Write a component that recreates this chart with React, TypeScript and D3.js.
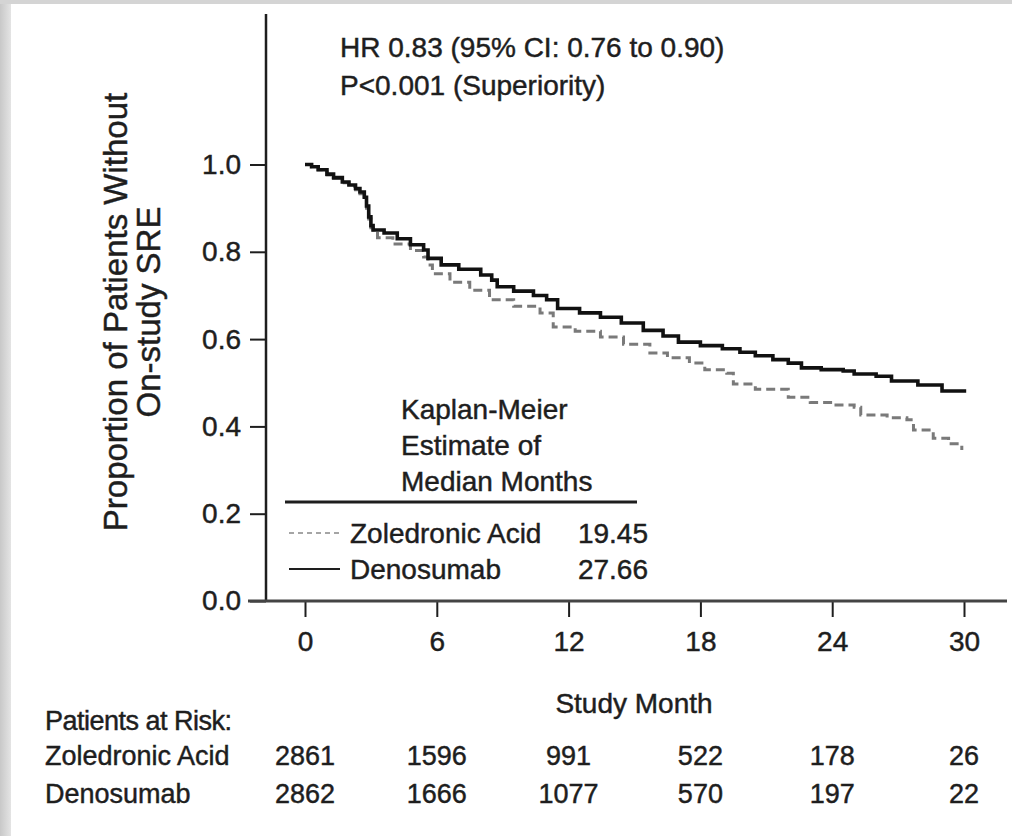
import React, { useEffect, useRef } from 'react';
import * as d3 from 'd3';

// Kaplan-Meier points: [study month, proportion without SRE]
const denosumab: [number, number][] = [
  [0, 1.0], [0.3, 0.995], [0.6, 0.988], [1.0, 0.978], [1.3, 0.97], [1.7, 0.96],
  [2.0, 0.953], [2.3, 0.945], [2.5, 0.937], [2.7, 0.925], [2.8, 0.905], [2.9, 0.88],
  [3.0, 0.86], [3.1, 0.85], [3.6, 0.843], [4.2, 0.83], [4.8, 0.816], [5.4, 0.804],
  [5.6, 0.785], [6.2, 0.77], [7.0, 0.76], [8.0, 0.747], [8.5, 0.735], [8.75, 0.72],
  [9.5, 0.71], [10.4, 0.7], [11.0, 0.69], [11.5, 0.67], [12.5, 0.66], [13.45, 0.65],
  [14.4, 0.637], [15.4, 0.62], [16.3, 0.607], [17.0, 0.593], [18.0, 0.585], [19.0, 0.578],
  [19.8, 0.57], [20.5, 0.562], [21.3, 0.553], [22.0, 0.545], [22.6, 0.534], [23.5, 0.53],
  [24.5, 0.527], [25.0, 0.52], [26.0, 0.515], [26.7, 0.504], [27.9, 0.495], [29.0, 0.481],
  [30.1, 0.481],
];

const zoledronic: [number, number][] = [
  [0, 1.0], [0.3, 0.995], [0.6, 0.988], [1.0, 0.976], [1.3, 0.968], [1.7, 0.958],
  [2.0, 0.95], [2.3, 0.942], [2.5, 0.933], [2.7, 0.92], [2.8, 0.9], [2.9, 0.875],
  [3.0, 0.855], [3.1, 0.842], [3.3, 0.832], [4.0, 0.818], [4.8, 0.803], [5.4, 0.788],
  [5.6, 0.77], [5.8, 0.75], [6.6, 0.73], [7.5, 0.712], [8.4, 0.69], [9.5, 0.675],
  [10.7, 0.66], [11.3, 0.628], [12.3, 0.618], [13.45, 0.605], [14.5, 0.588], [15.7, 0.568],
  [16.5, 0.557], [17.5, 0.545], [18.2, 0.53], [19.2, 0.522], [19.5, 0.497], [20.5, 0.485],
  [22.0, 0.467], [23.0, 0.455], [24.0, 0.449], [25.0, 0.444], [25.3, 0.426], [26.5, 0.42],
  [27.4, 0.415], [27.7, 0.392], [28.6, 0.373], [29.3, 0.36], [29.9, 0.346],
];

const monthTicks = [0, 6, 12, 18, 24, 30];
const propTicks = [0, 0.2, 0.4, 0.6, 0.8, 1.0];
const atRiskZol = [2861, 1596, 991, 522, 178, 26];
const atRiskDeno = [2862, 1666, 1077, 570, 197, 22];
const legendRows = [
  { name: 'Zoledronic Acid', median: '19.45', dashed: true },
  { name: 'Denosumab', median: '27.66', dashed: false },
];

const W = 1012;
const H = 836;
const FONT = '"Liberation Sans", Arial, sans-serif';
const INK = '#1e1e1e';

export default function App() {
  const svgRef = useRef<SVGSVGElement>(null);

  useEffect(() => {
    const svg = d3.select(svgRef.current);
    svg.selectAll('*').remove();

    const x = d3.scaleLinear().domain([0, 30]).range([305, 964]);
    const y = d3.scaleLinear().domain([0, 1]).range([601, 164.5]);

    // grey frame of the original slide
    const defs = svg.append('defs');
    const gl = defs.append('linearGradient').attr('id', 'lg').attr('x1', 0).attr('x2', 1);
    gl.append('stop').attr('offset', 0).attr('stop-color', '#c8c8c8');
    gl.append('stop').attr('offset', 1).attr('stop-color', '#e4e4e4');
    svg.append('rect').attr('width', W).attr('height', H).attr('fill', '#fff');
    svg.append('rect').attr('width', 11).attr('height', H).attr('fill', 'url(#lg)');
    svg.append('rect').attr('width', W).attr('height', 4).attr('fill', '#d4d4d4');

    // slightly heavier text, like the scanned original
    const heavy = (sel: any) => sel.attr('stroke', INK).attr('stroke-width', 0.45);

    // axes
    const yAxis = svg.append('g')
      .attr('transform', 'translate(266,0)')
      .call(d3.axisLeft(y).tickValues(propTicks).tickSize(16).tickPadding(9)
        .tickFormat(d3.format('.1f')));
    yAxis.select('.domain').remove();
    yAxis.selectAll('line').attr('stroke', INK).attr('stroke-width', 2);
    yAxis.selectAll('text').attr('font-family', FONT).attr('font-size', 28).attr('fill', INK)
      .call(heavy);

    const xAxis = svg.append('g')
      .attr('transform', 'translate(0,601)')
      .call(d3.axisBottom(x).tickValues(monthTicks).tickSize(16).tickPadding(14));
    xAxis.select('.domain').remove();
    xAxis.selectAll('line').attr('stroke', INK).attr('stroke-width', 2);
    xAxis.selectAll('text').attr('font-family', FONT).attr('font-size', 28).attr('fill', INK)
      .call(heavy);

    svg.append('line').attr('x1', 266).attr('x2', 266).attr('y1', 14).attr('y2', 602)
      .attr('stroke', INK).attr('stroke-width', 2.5);
    svg.append('line').attr('x1', 248).attr('x2', 1007).attr('y1', 601).attr('y2', 601)
      .attr('stroke', '#444').attr('stroke-width', 3.2);

    // curves
    const line = d3.line<[number, number]>()
      .x(d => x(d[0])).y(d => y(d[1]))
      .curve(d3.curveStepAfter);
    svg.append('path').datum(zoledronic).attr('d', line)
      .attr('fill', 'none').attr('stroke', '#7a7a7a').attr('stroke-width', 3)
      .attr('stroke-dasharray', '9,5');
    svg.append('path').datum(denosumab).attr('d', line)
      .attr('fill', 'none').attr('stroke', '#111').attr('stroke-width', 3.6);

    // axis titles
    const yl = svg.append('g').attr('transform', 'translate(0,312) rotate(-90)')
      .attr('font-family', FONT).attr('font-size', 33).attr('fill', INK)
      .attr('text-anchor', 'middle').call(heavy);
    yl.append('text').attr('x', 0).attr('y', 127).text('Proportion of Patients Without');
    yl.append('text').attr('x', 0).attr('y', 160).text('On-study SRE');

    svg.append('text').attr('x', 634).attr('y', 713).attr('text-anchor', 'middle')
      .attr('font-family', FONT).attr('font-size', 28).attr('fill', INK).call(heavy)
      .text('Study Month');

    // annotation
    const ann = svg.append('g').attr('font-family', FONT).attr('font-size', 28).attr('fill', INK)
      .call(heavy);
    ann.append('text').attr('x', 340).attr('y', 57).text('HR 0.83 (95% CI: 0.76 to 0.90)');
    ann.append('text').attr('x', 340).attr('y', 95).text('P<0.001 (Superiority)');

    // legend
    const lg = svg.append('g').attr('font-family', FONT).attr('font-size', 28).attr('fill', INK);
    ['Kaplan-Meier', 'Estimate of', 'Median Months'].forEach((t, i) => {
      lg.append('text').attr('x', 401).attr('y', 419 + i * 36).call(heavy).text(t);
    });
    lg.append('line').attr('x1', 285).attr('x2', 637).attr('y1', 502).attr('y2', 502)
      .attr('stroke', INK).attr('stroke-width', 2.8);
    legendRows.forEach((r, i) => {
      const cy = 533 + i * 36;
      lg.append('line').attr('x1', 289).attr('x2', 340).attr('y1', cy).attr('y2', cy)
        .attr('stroke', r.dashed ? '#888' : INK).attr('stroke-width', r.dashed ? 1.5 : 2)
        .attr('stroke-dasharray', r.dashed ? '5,4' : null);
      lg.append('text').attr('x', 350).attr('y', cy + 10).call(heavy).text(r.name);
      lg.append('text').attr('x', 648).attr('y', cy + 10).attr('text-anchor', 'end')
        .call(heavy).text(r.median);
    });

    // patients at risk table
    const tb = svg.append('g').attr('font-family', FONT).attr('font-size', 27).attr('fill', INK)
      .call(heavy);
    tb.append('text').attr('x', 45).attr('y', 730).attr('textLength', 187).text('Patients at Risk:');
    tb.append('text').attr('x', 45).attr('y', 765).text('Zoledronic Acid');
    tb.append('text').attr('x', 45).attr('y', 803).text('Denosumab');
    [atRiskZol, atRiskDeno].forEach((row, ri) => {
      tb.selectAll(null).data(row).enter().append('text')
        .attr('x', (d, i) => x(monthTicks[i]))
        .attr('y', ri === 0 ? 765 : 803)
        .attr('text-anchor', 'middle')
        .text(d => d);
    });
  }, []);

  return (
    <div style={{ position: 'absolute', left: 0, top: 0 }}>
      <svg ref={svgRef} width={W} height={H} style={{ display: 'block' }} />
    </div>
  );
}
